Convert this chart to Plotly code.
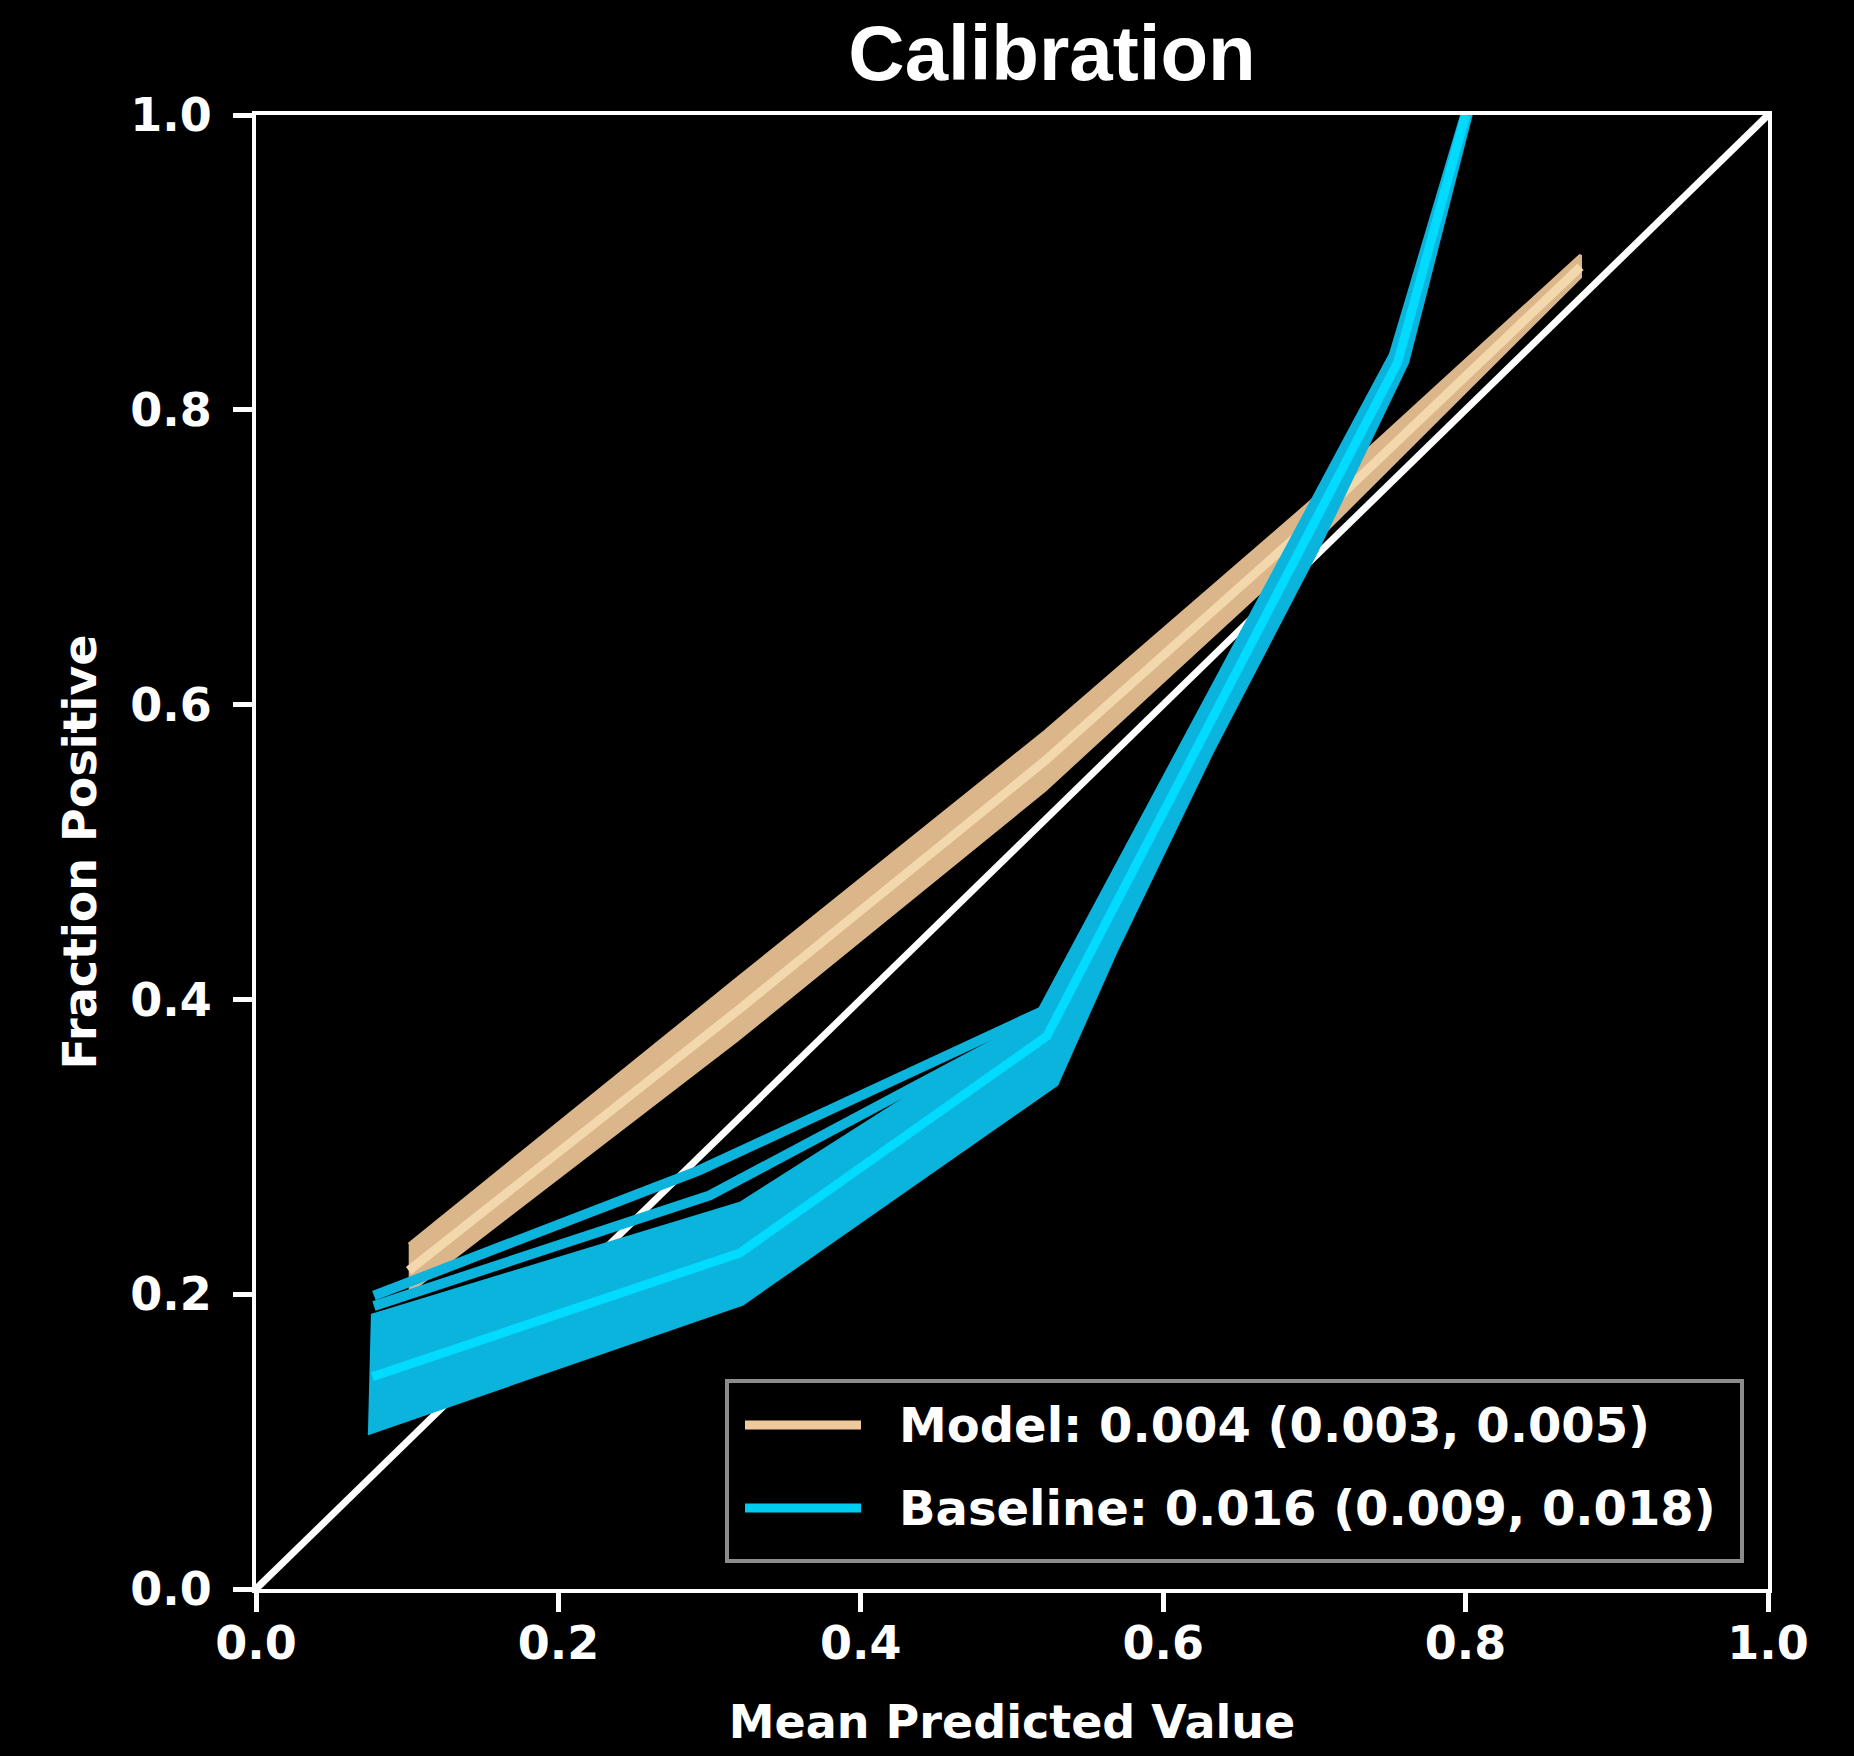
import plotly.graph_objects as go

# ---------------- data ----------------
tick_vals = [0.0, 0.2, 0.4, 0.6, 0.8, 1.0]
tick_text = ["0.0", "0.2", "0.4", "0.6", "0.8", "1.0"]

diag_x = [0.0, 1.0]
diag_y = [0.0, 1.0]

# Model calibration curve (centre) and the spread of its bootstrap curves
model_x = [0.101, 0.318, 0.522, 0.700, 0.876]
model_y = [0.216, 0.392, 0.562, 0.725, 0.897]
model_lo = [0.201, 0.372, 0.542, 0.710, 0.890]
model_hi = [0.234, 0.414, 0.582, 0.740, 0.905]

# Baseline calibration curve (centre)
baseline_x = [0.077, 0.320, 0.523, 0.755, 0.800]
baseline_y = [0.144, 0.228, 0.375, 0.832, 1.000]

# Baseline bootstrap spread: lower/right edge and upper/left edge
band_lo_x = [0.074, 0.322, 0.530, 0.569, 0.633, 0.702, 0.762, 0.804]
band_lo_y = [0.105, 0.193, 0.342, 0.432, 0.568, 0.704, 0.832, 1.000]
band_hi_x = [0.076, 0.320, 0.516, 0.750, 0.797]
band_hi_y = [0.186, 0.262, 0.390, 0.838, 1.000]

# separate baseline bootstrap curves above the dense band
boot_a_x = [0.078, 0.293, 0.520]
boot_a_y = [0.199, 0.284, 0.392]
boot_b_x = [0.078, 0.300, 0.520]
boot_b_y = [0.192, 0.267, 0.387]

legend_labels = ["Model: 0.004 (0.003, 0.005)", "Baseline: 0.016 (0.009, 0.018)"]

# ---------------- styling ----------------
W, H = 1854, 1756
ML, MR, MT, MB = 256, 86, 115, 167
PW, PH = W - ML - MR, H - MT - MB

TAN_EDGE = "#DAB68A"
TAN_MID = "#F3D8AE"
TAN_LEG = "#F0C99B"
CY_BAND = "#0AB4DC"
CY_MAIN = "#00DBFF"
CY_LEG = "#00CCF2"
FONT = "DejaVu Sans"


def px_x(p):
    return (p - ML) / PW


def px_y(p):
    return (H - MB - p) / PH


fig = go.Figure()

# identity line
fig.add_trace(go.Scatter(x=diag_x, y=diag_y, mode="lines",
                         line=dict(color="white", width=7), showlegend=False, hoverinfo="skip"))

# model spread + model line
fig.add_trace(go.Scatter(x=model_x + model_x[::-1], y=model_lo + model_hi[::-1],
                         mode="lines", fill="toself", fillcolor=TAN_EDGE,
                         line=dict(color=TAN_EDGE, width=3), showlegend=False, hoverinfo="skip"))
fig.add_trace(go.Scatter(x=model_x, y=model_y, mode="lines", name=legend_labels[0],
                         line=dict(color=TAN_MID, width=9), showlegend=False))

# baseline spread
fig.add_trace(go.Scatter(x=band_lo_x + band_hi_x[::-1], y=band_lo_y + band_hi_y[::-1],
                         mode="lines", fill="toself", fillcolor=CY_BAND,
                         line=dict(color=CY_BAND, width=2), showlegend=False, hoverinfo="skip"))
for bx, by in [(boot_a_x, boot_a_y), (boot_b_x, boot_b_y)]:
    fig.add_trace(go.Scatter(x=bx, y=by, mode="lines",
                             line=dict(color=CY_BAND, width=10), showlegend=False, hoverinfo="skip"))
# baseline line
fig.add_trace(go.Scatter(x=baseline_x, y=baseline_y, mode="lines", name=legend_labels[1],
                         line=dict(color=CY_MAIN, width=9), showlegend=False))

axis_common = dict(
    range=[0, 1], tickvals=tick_vals, ticktext=tick_text,
    showgrid=False, zeroline=False,
    showline=True, linecolor="white", linewidth=4, mirror=True,
    ticks="outside", ticklen=19, tickwidth=5, tickcolor="white",
    tickfont=dict(family=FONT, size=46, color="white", weight="bold"),
)

fig.update_xaxes(**axis_common, ticklabelstandoff=-8,
                 title=dict(text="Mean Predicted Value", standoff=38,
                            font=dict(family=FONT, size=46, color="white", weight="bold")))
fig.update_yaxes(**axis_common, ticklabelstandoff=12,
                 title=dict(text="Fraction Positive", standoff=20,
                            font=dict(family=FONT, size=46, color="white", weight="bold")))

# legend box drawn manually (long sample lines as in the reference)
lx0, lx1, ly0, ly1 = 727, 1742, 1381, 1561
shapes = [
    dict(type="rect", xref="paper", yref="paper", layer="above",
         x0=px_x(lx0), x1=px_x(lx1), y0=px_y(ly1), y1=px_y(ly0),
         fillcolor="black", line=dict(color="#8C8C8C", width=4)),
    dict(type="line", xref="paper", yref="paper", layer="above",
         x0=px_x(745), x1=px_x(861), y0=px_y(1425), y1=px_y(1425),
         line=dict(color=TAN_LEG, width=9)),
    dict(type="line", xref="paper", yref="paper", layer="above",
         x0=px_x(745), x1=px_x(861), y0=px_y(1508), y1=px_y(1508),
         line=dict(color=CY_LEG, width=9)),
]
annotations = [
    dict(text=legend_labels[0], xref="paper", yref="paper", x=px_x(897), y=px_y(1425),
         xanchor="left", yanchor="middle", showarrow=False,
         font=dict(family=FONT, size=48, color="white", weight="bold")),
    dict(text=legend_labels[1], xref="paper", yref="paper", x=px_x(897), y=px_y(1508),
         xanchor="left", yanchor="middle", showarrow=False,
         font=dict(family=FONT, size=48, color="white", weight="bold")),
]

fig.update_layout(
    width=W, height=H,
    margin=dict(l=ML, r=MR, t=MT, b=MB, autoexpand=False),
    paper_bgcolor="black", plot_bgcolor="black",
    showlegend=False,
    title=dict(text="Calibration", x=1052 / W, xref="container", xanchor="center",
               y=1 - 53 / H, yref="container", yanchor="middle",
               font=dict(family="Liberation Sans", size=78, color="white", weight="bold")),
    shapes=shapes, annotations=annotations,
)

fig.write_html("out.html")
